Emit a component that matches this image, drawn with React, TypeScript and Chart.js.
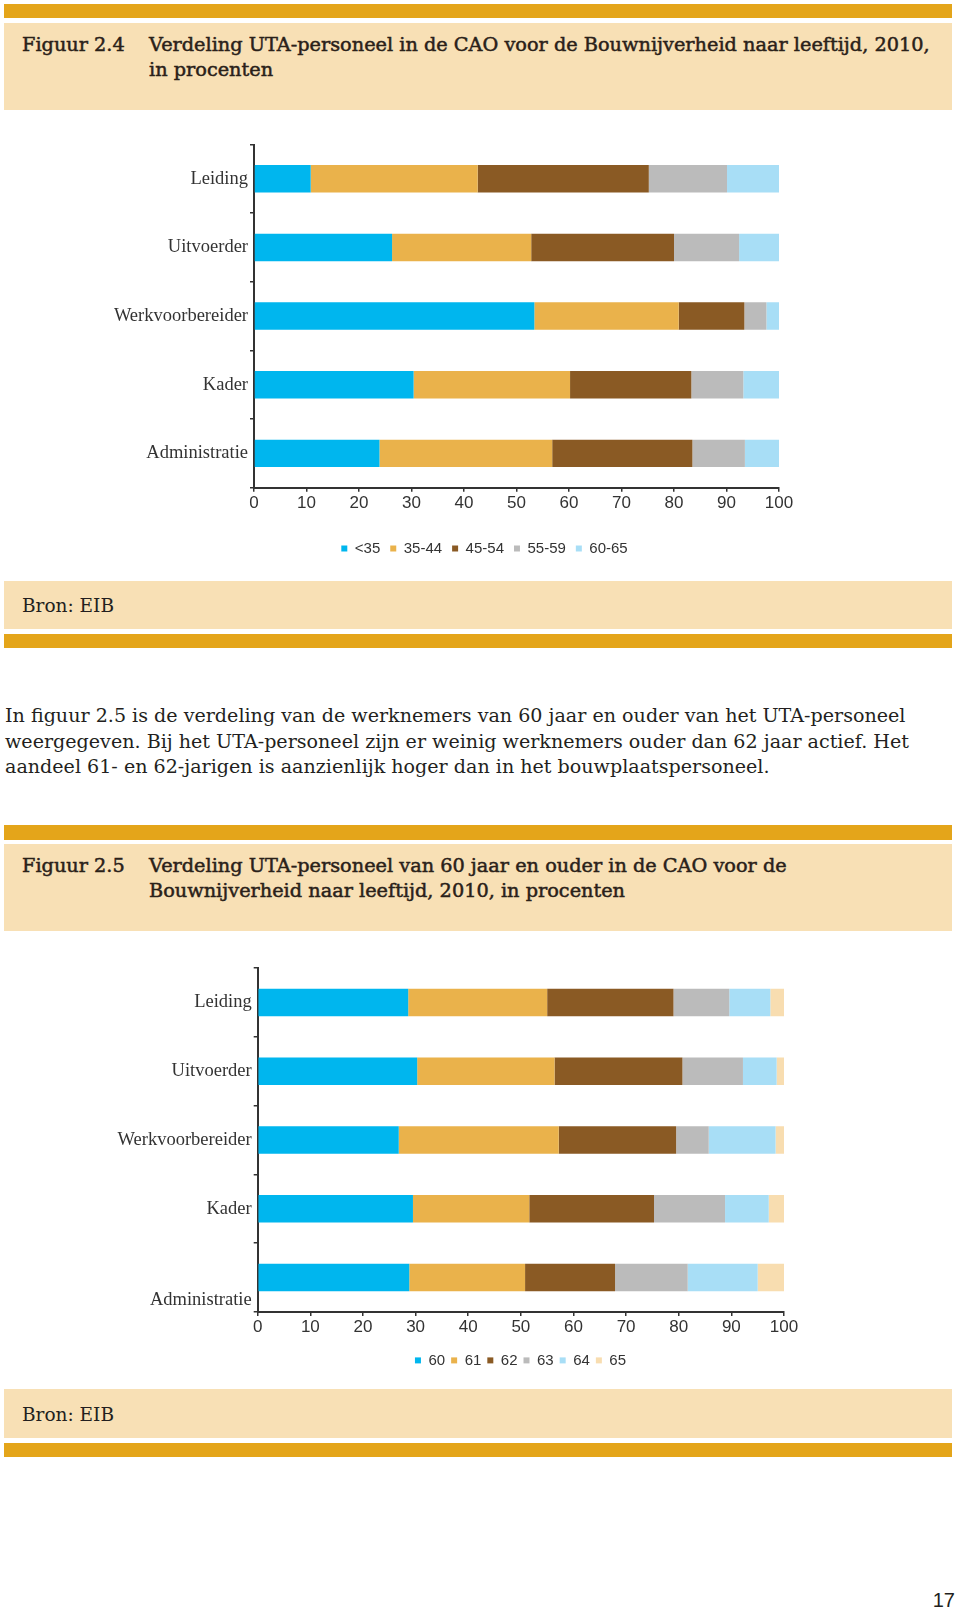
import React, { useEffect, useRef } from "react";
import { Chart, registerables } from "chart.js";

Chart.register(...registerables);

// ---------- DATA ----------
const categories1 = ["Leiding", "Uitvoerder", "Werkvoorbereider", "Kader", "Administratie"];
const categories2: (string | string[])[] = ["Leiding", "Uitvoerder", "Werkvoorbereider", "Kader", ["", "", "Administratie"]];

const ageGroups1 = ["<35", "35-44", "45-54", "55-59", "60-65"];
const under35 = [10.8, 26.3, 53.4, 30.4, 23.9];
const age35to44 = [31.8, 26.5, 27.5, 29.8, 32.9];
const age45to54 = [32.6, 27.2, 12.5, 23.1, 26.7];
const age55to59 = [14.9, 12.4, 4.2, 9.9, 10.0];
const age60to65 = [9.9, 7.6, 2.4, 6.8, 6.5];

const ageGroups2 = ["60", "61", "62", "63", "64", "65"];
const age60 = [28.6, 30.3, 26.8, 29.5, 28.8];
const age61 = [26.4, 26.1, 30.4, 22.1, 22.0];
const age62 = [24.0, 24.3, 22.3, 23.7, 17.1];
const age63 = [10.6, 11.5, 6.2, 13.5, 13.8];
const age64 = [7.8, 6.4, 12.7, 8.3, 13.3];
const age65 = [2.6, 1.4, 1.6, 2.9, 5.0];

const seriesColors = ["#00B6EE", "#EAB24B", "#8A5A24", "#BBBBBB", "#A8DEF6", "#F8DDB0"];

const xMin = 0;
const xMax = 100;
const xStep = 10;

const ORANGE = "#E4A51A";
const BEIGE = "#F8E0B5";
const TEXT = "#231F20";
const PAGE_SERIF = "'DejaVu Serif', 'Liberation Serif', serif";
const LABEL_SERIF = "'Liberation Serif', 'DejaVu Serif', serif";
const NARROW = "'Liberation Sans Narrow', 'Liberation Sans', Arial, sans-serif";
const PAGE_FONT_SIZE = 19.1;
const TITLE_FONT_SIZE = 19.3;

type Geo = {
  width: number;
  height: number;
  padLeft: number;
  padRight: number;
  padTop: number;
  padBottom: number;
  yWidth: number;
  yRightWidth: number;
  xHeight: number;
  legendPad: number;
};

function makeConfig(labels: any[], names: string[], series: number[][], geo: Geo): any {
  return {
    type: "bar",
    data: {
      labels,
      datasets: series.map((vals, i) => ({
        label: names[i],
        data: vals,
        backgroundColor: seriesColors[i],
        borderWidth: 0,
        barPercentage: 0.4,
        categoryPercentage: 1,
      })),
    },
    options: {
      indexAxis: "y",
      responsive: false,
      animation: false,
      devicePixelRatio: 1,
      layout: {
        autoPadding: false,
        padding: { left: geo.padLeft, right: geo.padRight, top: geo.padTop, bottom: geo.padBottom },
      },
      plugins: {
        tooltip: { enabled: false },
        legend: {
          position: "bottom",
          align: "center",
          labels: {
            boxWidth: 6,
            boxHeight: 6,
            padding: geo.legendPad,
            color: "#333333",
            font: { family: NARROW, size: 15 },
          },
        },
      },
      scales: {
        x: {
          stacked: true,
          min: xMin,
          max: xMax,
          afterFit: (s: any) => {
            s.height = geo.xHeight;
          },
          ticks: {
            stepSize: xStep,
            padding: 1,
            color: "#333333",
            font: { family: NARROW, size: 17 },
            maxRotation: 0,
            autoSkip: false,
          },
          grid: {
            drawOnChartArea: false,
            drawTicks: true,
            tickLength: 4,
            color: "#333333",
            lineWidth: 1.5,
          },
          border: { display: true, color: "#333333", width: 2 },
        },
        y: {
          stacked: true,
          position: "left",
          afterFit: (s: any) => {
            s.width = geo.yWidth;
          },
          ticks: {
            padding: 2,
            color: "#333333",
            font: { family: LABEL_SERIF, size: 18.5 },
            autoSkip: false,
          },
          grid: {
            drawOnChartArea: false,
            drawTicks: true,
            tickLength: 4,
            color: "#333333",
            lineWidth: 1.5,
          },
          border: { display: true, color: "#333333", width: 2 },
        },
        ySpacer: {
          type: "linear",
          position: "right",
          display: true,
          afterFit: (s: any) => {
            s.width = geo.yRightWidth;
          },
          ticks: { display: false },
          grid: { display: false },
          border: { display: false },
        },
      },
    },
  };
}

function BarChart({ labels, names, series, geo, top }: { labels: any[]; names: string[]; series: number[][]; geo: Geo; top: number }) {
  const ref = useRef<HTMLCanvasElement | null>(null);
  useEffect(() => {
    if (!ref.current) return;
    const chart = new Chart(ref.current, makeConfig(labels, names, series, geo));
    return () => chart.destroy();
  }, []);
  return (
    <canvas
      ref={ref}
      width={geo.width}
      height={geo.height}
      style={{ position: "absolute", left: 0, top, width: geo.width, height: geo.height }}
    />
  );
}

const Band = ({ top, height, color }: { top: number; height: number; color: string }) => (
  <div style={{ position: "absolute", left: 4, width: 948, top, height, background: color }} />
);

const TitleBlock = ({ top, num, lines }: { top: number; num: string; lines: string[] }) => (
  <div
    style={{
      position: "absolute",
      top,
      left: 0,
      width: 960,
      fontFamily: PAGE_SERIF,
      fontSize: TITLE_FONT_SIZE,
      lineHeight: "25px",
      color: "#2A2119",
      WebkitTextStroke: "0.5px #2A2119",
    }}
  >
    <div style={{ position: "absolute", left: 22, top: 0, whiteSpace: "nowrap" }}>{num}</div>
    {lines.map((l, i) => (
      <div key={i} style={{ position: "absolute", left: 149, top: i * 25, whiteSpace: "nowrap" }}>
        {l}
      </div>
    ))}
  </div>
);

const Bron = ({ top }: { top: number }) => (
  <div
    style={{
      position: "absolute",
      top,
      left: 22,
      fontFamily: PAGE_SERIF,
      fontSize: 18.5,
      lineHeight: "25px",
      color: TEXT,
      whiteSpace: "nowrap",
    }}
  >
    Bron: EIB
  </div>
);

const paragraph = [
  "In figuur 2.5 is de verdeling van de werknemers van 60 jaar en ouder van het UTA-personeel",
  "weergegeven. Bij het UTA-personeel zijn er weinig werknemers ouder dan 62 jaar actief. Het",
  "aandeel 61- en 62-jarigen is aanzienlijk hoger dan in het bouwplaatspersoneel.",
];

// chart 1: plot area x 254..779, y 144..488; legend centred on 484.5
const geo1: Geo = {
  width: 960,
  height: 450,
  padLeft: 90,
  padRight: 81,
  padTop: 24.5,
  padBottom: 4,
  yWidth: 164,
  yRightWidth: 100,
  xHeight: 43.3,
  legendPad: 10,
};

// chart 2: plot area x 257.7..784, y 968..1312; legend centred on 520.5
// (top padding matches the space Chart.js reserves for the 3-line last label)
const geo2: Geo = {
  width: 960,
  height: 448.2,
  padLeft: 90,
  padRight: 9,
  padTop: 36.2,
  padBottom: 2.1,
  yWidth: 167.7,
  yRightWidth: 167,
  xHeight: 34.9,
  legendPad: 6,
};

export default function App() {
  useEffect(() => {
    document.body.style.margin = "0";
  }, []);
  return (
    <div style={{ position: "relative", width: 960, height: 1610, background: "#ffffff", overflow: "hidden" }}>
      <Band top={4} height={13.5} color={ORANGE} />
      <Band top={22.6} height={87.4} color={BEIGE} />
      <TitleBlock
        top={31.5}
        num="Figuur 2.4"
        lines={["Verdeling UTA-personeel in de CAO voor de Bouwnijverheid naar leeftijd, 2010,", "in procenten"]}
      />
      <BarChart
        labels={categories1}
        names={ageGroups1}
        series={[under35, age35to44, age45to54, age55to59, age60to65]}
        geo={geo1}
        top={120}
      />
      <Band top={581} height={48} color={BEIGE} />
      <Bron top={592.5} />
      <Band top={633.5} height={14.5} color={ORANGE} />

      <div
        style={{
          position: "absolute",
          top: 702.8,
          left: 5,
          fontFamily: PAGE_SERIF,
          fontSize: PAGE_FONT_SIZE,
          lineHeight: "25.7px",
          color: TEXT,
        }}
      >
        {paragraph.map((l, i) => (
          <div key={i} style={{ whiteSpace: "nowrap" }}>
            {l}
          </div>
        ))}
      </div>

      <Band top={824.5} height={15.5} color={ORANGE} />
      <Band top={844} height={87} color={BEIGE} />
      <TitleBlock
        top={853}
        num="Figuur 2.5"
        lines={["Verdeling UTA-personeel van 60 jaar en ouder in de CAO voor de", "Bouwnijverheid naar leeftijd, 2010, in procenten"]}
      />
      <BarChart
        labels={categories2}
        names={ageGroups2}
        series={[age60, age61, age62, age63, age64, age65]}
        geo={geo2}
        top={931.8}
      />
      <Band top={1389} height={49} color={BEIGE} />
      <Bron top={1401.5} />
      <Band top={1442.5} height={14.5} color={ORANGE} />

      <div
        style={{
          position: "absolute",
          top: 1588,
          right: 5,
          fontFamily: NARROW,
          fontSize: 20,
          lineHeight: "24px",
          color: TEXT,
        }}
      >
        17
      </div>
    </div>
  );
}
